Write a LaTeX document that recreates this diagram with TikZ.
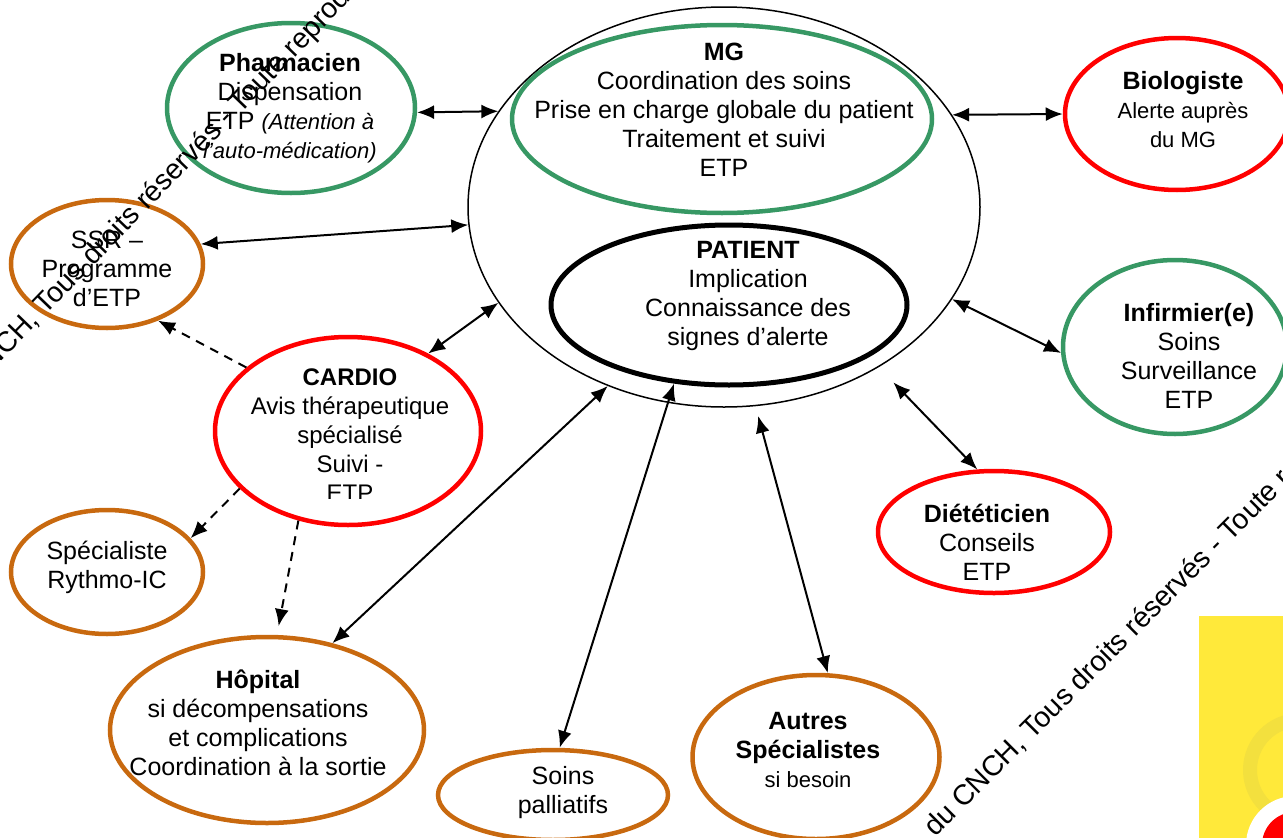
\documentclass[tikz,border=0pt]{standalone}
\usepackage{fontspec}
\setmainfont{Liberation Sans}
\usetikzlibrary{shapes.geometric,arrows.meta}
\definecolor{cgreen}{RGB}{55,152,100}
\definecolor{corange}{RGB}{200,105,15}
\definecolor{cred}{RGB}{255,0,0}
\definecolor{cyellow}{RGB}{255,233,58}
\definecolor{cring}{RGB}{243,224,62}
\begin{document}
\begin{tikzpicture}[x=1pt,y=-1pt,
  oval/.style={ellipse,draw,inner sep=0pt,line width=4.5pt},
  txt/.style={align=center,inner sep=0pt,font=\fontsize{25}{29}\selectfont},
  tip/.tip={Latex[length=17pt,width=14pt]},
  arr/.style={line width=2pt,{tip}-{tip}},
  darr/.style={line width=2pt,dash pattern=on 9pt off 7pt,-{tip}},
  wm/.style={inner sep=0pt,font=\fontsize{28.5}{30}\selectfont}]
\useasboundingbox (0,0) rectangle (1283,838);
\clip (0,0) rectangle (1283,838);
% corner logo
\fill[cyellow] (1199,616) rectangle (1283,838);
\draw[cring,line width=14pt] (1300,770) circle[radius=50];
\fill[white] (1295,845) circle[radius=49];
\fill[cred] (1295,845) circle[radius=33];
% ellipses
\node[oval,draw=black,line width=1.5pt,minimum width=512pt,minimum height=400pt] (big) at (724,207) {};
\node[oval,draw=cgreen,minimum width=420pt,minimum height=188pt] (mg) at (722,119) {};
\node[oval,draw=black,line width=5pt,minimum width=356pt,minimum height=160pt] (patient) at (729,305) {};
\node[oval,draw=cgreen,minimum width=248pt,minimum height=170pt] (pharm) at (291,108) {};
\node[oval,draw=corange,minimum width=192pt,minimum height=128pt] (ssr) at (107,264) {};
\node[oval,draw=cred,minimum width=224pt,minimum height=152pt] (bio) at (1177,114) {};
\node[oval,draw=cgreen,minimum width=224pt,minimum height=174pt] (inf) at (1175,347) {};
\node[oval,draw=cred,minimum width=266pt,minimum height=188pt] (cardio) at (348,431) {};
\node[oval,draw=cred,minimum width=232pt,minimum height=122pt] (diet) at (994,532) {};
\node[oval,draw=corange,minimum width=192pt,minimum height=124pt] (spec) at (107,572) {};
\node[oval,draw=corange,minimum width=314pt,minimum height=186pt] (hop) at (267,730) {};
\node[oval,draw=corange,minimum width=230pt,minimum height=90pt] (soins) at (553,795) {};
\node[oval,draw=corange,minimum width=247pt,minimum height=164pt] (autres) at (816,757) {};
% texts
\node[txt] (mgT) at (724,110) {\textbf{MG}\\Coordination des soins\\Prise en charge globale du patient\\Traitement et suivi\\ETP};
\node[txt] (patT) at (748,296) {\textbf{PATIENT}\\Implication\\Connaissance des\\signes d’alerte};
\node[txt] (pharmT) at (290,108) {\textbf{Pharmacien}\\Dispensation\\ETP {\fontsize{22}{28}\selectfont\itshape (Attention à}\\{\fontsize{22}{28}\selectfont\itshape l’auto-médication)}};
\node[txt] (ssrT) at (107,269) {SSR –\\Programme\\d’ETP};
\node[txt] (bioT) at (1183,110) {\textbf{Biologiste}\\{\fontsize{22}{26}\selectfont Alerte auprès}\\{\fontsize{22}{26}\selectfont du MG}};
\node[txt] (infT) at (1189,356) {\textbf{Infirmier(e)}\\Soins\\Surveillance\\ETP};
\begin{scope}
\clip (0,0) rectangle (1283,498);
\node[txt,font=\fontsize{24}{29}\selectfont] (cardioT) at (350,435) {\textbf{CARDIO}\\Avis thérapeutique\\spécialisé\\Suivi -\\ETP};
\end{scope}
\node[txt] (dietT) at (987,542) {\textbf{Diététicien}\\Conseils\\ETP};
\node[txt] (specT) at (107,567) {Spécialiste\\Rythmo-IC};
\node[txt] (hopT) at (258,723) {\textbf{Hôpital}\\si décompensations\\et complications\\Coordination à la sortie};
\node[txt] (soinsT) at (563,793) {Soins\\palliatifs};
\node[txt] (autresT) at (808,750) {\textbf{Autres}\\\textbf{Spécialistes}\\{\fontsize{22}{26}\selectfont si besoin}};
% connectors
\draw[arr] (pharm.-2) -- (big.157);
\draw[arr] (big.22) -- (bio.180);
\draw[arr] (ssr.12) -- (big.184.5);
\draw[arr] (cardio.44) -- (big.203);
\draw[darr] (cardio.148) -- (ssr.-48);
\draw[darr] (cardio.208) -- (spec.22);
\draw[darr,shorten >=9pt] (cardio.241) -- (hop.84);
\draw[arr] (hop.53) -- (big.237.5);
\draw[arr] (soins.82) -- (patient.235);
\draw[arr,shorten >=10pt] (autres.82) -- (big.-81);
\draw[arr,shorten >=21pt] (diet.105) -- (big.-46);
\draw[arr] (big.-22.4) -- (inf.183);
% watermark
\node[wm,rotate=46,anchor=base west] (wm1) at (-50,415) {du CNCH, Tous droits réservés - Toute reproduction};
\node[wm,rotate=45,anchor=base west] (wm2) at (935,838) {du CNCH, Tous droits réservés - Toute reproduction};
\end{tikzpicture}
\end{document}
